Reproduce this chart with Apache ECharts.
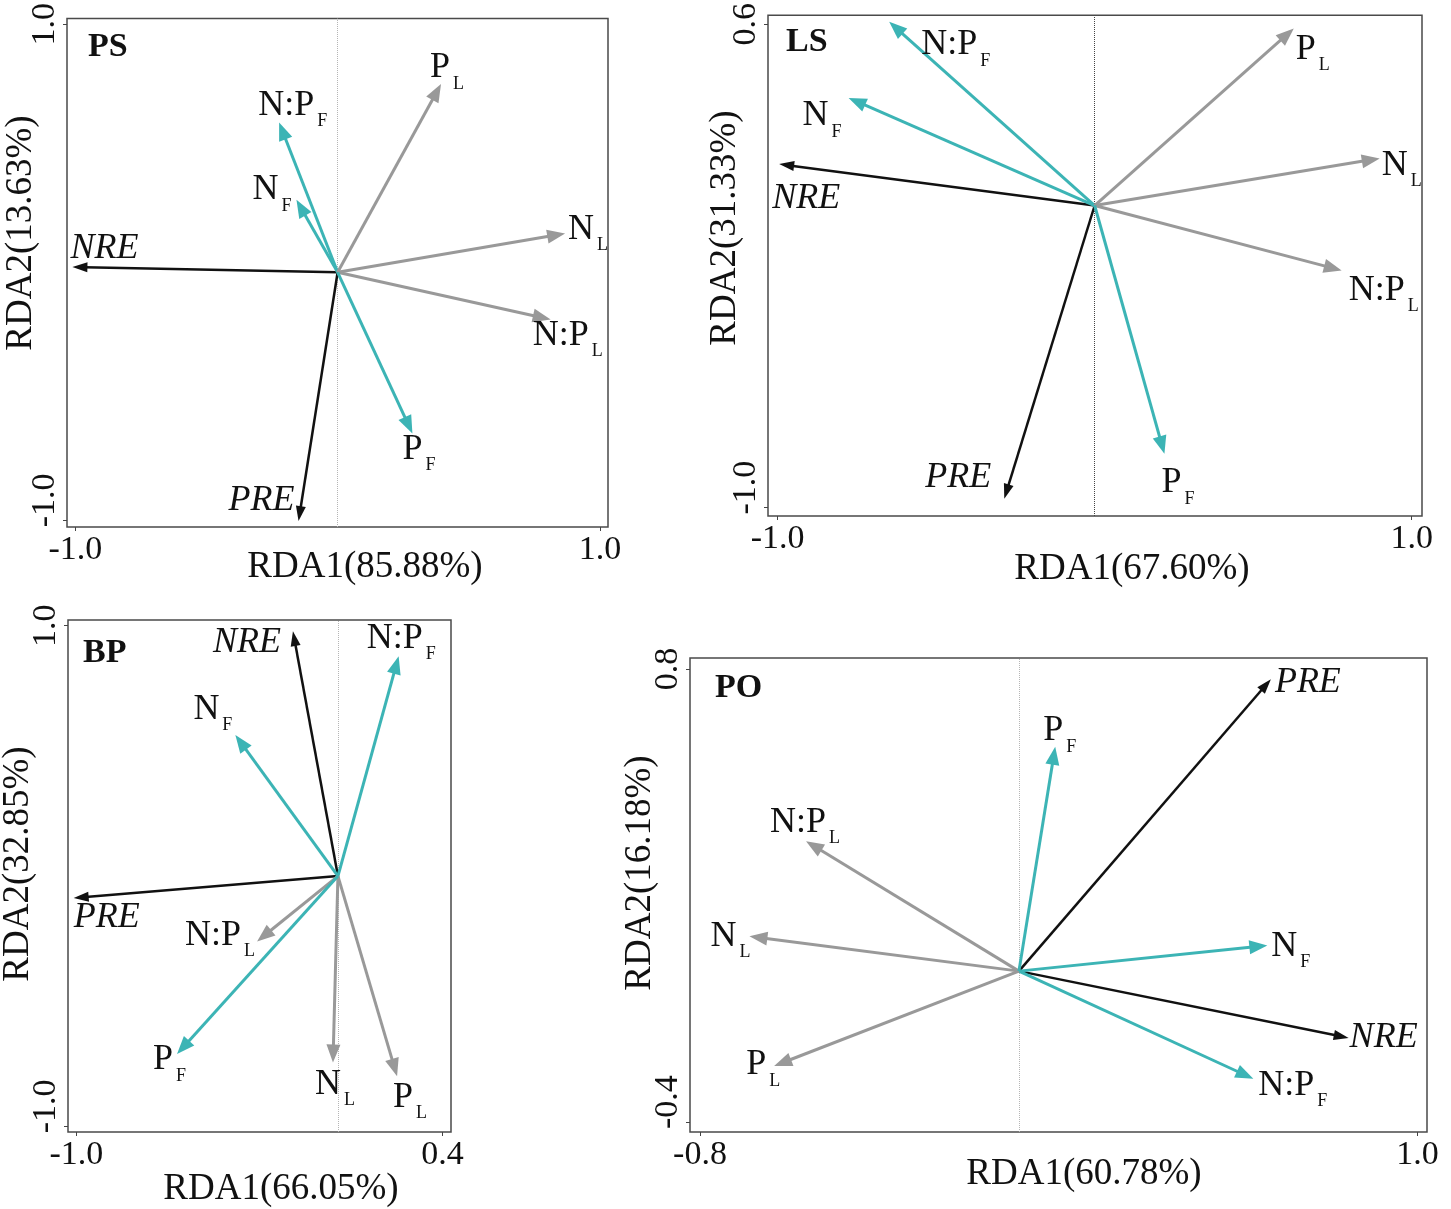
<!DOCTYPE html>
<html>
<head>
<meta charset="utf-8">
<script src="https://cdn.jsdelivr.net/npm/echarts@6/dist/echarts.min.js"></script>
<style>html,body{margin:0;padding:0;background:#fff}#c{width:1451px;height:1209px}</style>
</head>
<body>
<div id="c"></div>
<script>
// ---------------- DATA ----------------
const PS_names = ['NRE', 'PRE', 'N:P_F', 'N_F', 'P_L', 'N_L', 'N:P_L', 'P_F'];
const PS_rda1  = [-1.011, -0.149, -0.223, -0.157, 0.394, 0.867, 0.812, 0.285];
const PS_rda2  = [0.021, -1.003, 0.604, 0.292, 0.759, 0.156, -0.190, -0.650];
const PS_xTicks = [-1.0, 1.0];
const PS_yTicks = [-1.0, 1.0];
const PS_xTitle = 'RDA1(85.88%)';
const PS_yTitle = 'RDA2(13.63%)';

const LS_names = ['NRE', 'PRE', 'N:P_F', 'N_F', 'P_L', 'N_L', 'N:P_L', 'P_F'];
const LS_rda1  = [-0.995, -0.285, -0.648, -0.776, 0.628, 0.899, 0.779, 0.220];
const LS_rda2  = [0.137, -0.971, 0.608, 0.356, 0.586, 0.156, -0.215, -0.822];
const LS_xTicks = [-1.0, 1.0];
const LS_yTicks = [-1.0, 0.6];
const LS_xTitle = 'RDA1(67.60%)';
const LS_yTitle = 'RDA2(31.33%)';

const BP_names = ['NRE', 'PRE', 'N:P_F', 'N_F', 'P_L', 'N_L', 'N:P_L', 'P_F'];
const BP_rda1  = [-0.172, -1.010, 0.232, -0.392, 0.226, -0.019, -0.309, -0.615];
const BP_rda2  = [0.978, -0.088, 0.878, 0.563, -0.800, -0.745, -0.261, -0.711];
const BP_xTicks = [-1.0, 0.4];
const BP_yTicks = [-1.0, 1.0];
const BP_xTitle = 'RDA1(66.05%)';
const BP_yTitle = 'RDA2(32.85%)';

const PO_names = ['NRE', 'PRE', 'N:P_F', 'N_F', 'P_L', 'N_L', 'N:P_L', 'P_F'];
const PO_rda1  = [0.827, 0.632, 0.588, 0.623, -0.614, -0.676, -0.534, 0.091];
const PO_rda2  = [-0.177, 0.773, -0.285, 0.068, -0.251, 0.092, 0.344, 0.594];
const PO_xTicks = [-0.8, 1.0];
const PO_yTicks = [-0.4, 0.8];
const PO_xTitle = 'RDA1(60.78%)';
const PO_yTitle = 'RDA2(16.18%)';

// ---------------- STYLE / LAYOUT ----------------
const FONT = '"Liberation Serif", "Times New Roman", serif';
const TEAL = '#3cb4b5', GREY = '#999999', BLACK = '#111111';
function colorOf(n) { return n.endsWith('_F') ? TEAL : (n.endsWith('_L') ? GREY : BLACK); }

// label offsets in pixels relative to arrow tip: [left edge dx, caps-centre dy]
const PS_off = {'NRE':[-2,-19],'PRE':[-70,-21],'N:P_F':[-21,-17],'N_F':[-44,-10],'P_L':[-11,-16],'N_L':[3,-4],'N:P_L':[-18,16],'P_F':[-10,16]};
const LS_off = {'NRE':[-7,34],'PRE':[-79,-21],'N:P_F':[32,23],'N_F':[-46,18],'P_L':[2,21],'N_L':[2,7],'N:P_L':[7,20],'P_F':[-3,29]};
const BP_off = {'NRE':[-80,11],'PRE':[0,19],'N:P_F':[-32,-18],'N_F':[-42,-26],'P_L':[-4,21],'N_L':[-18,22],'N:P_L':[-72,-6],'P_F':[-24,6]};
const PO_off = {'NRE':[1,0],'PRE':[4,3],'N:P_F':[5,7],'N_F':[4,1],'P_L':[-28,-1],'N_L':[-39,0],'N:P_L':[-36,-19],'P_F':[-12,-16]};

const panels = [
  {tag:'PS', names:PS_names, xs:PS_rda1, ys:PS_rda2, xTicks:PS_xTicks, yTicks:PS_yTicks, xTitle:PS_xTitle, yTitle:PS_yTitle, off:PS_off,
   grid:{left:67, top:15, width:541, height:512}, xr:[-1.0316, 1.0305], yr:[-1.027, 1.0228], zero:'#b5b5b5',
   tagPos:[88, 47], xtPos:[365, 567], ytPos:[21, 233]},
  {tag:'LS', names:LS_names, xs:LS_rda1, ys:LS_rda2, xTicks:LS_xTicks, yTicks:LS_yTicks, xTitle:LS_xTitle, yTitle:LS_yTitle, off:LS_off,
   grid:{left:768, top:15, width:654, height:501}, xr:[-1.0302, 1.0324], yr:[-1.0278, 0.6298], zero:'#444444',
   tagPos:[786, 42], xtPos:[1132, 569], ytPos:[725, 228]},
  {tag:'BP', names:BP_names, xs:BP_rda1, ys:BP_rda2, xTicks:BP_xTicks, yTicks:BP_yTicks, xTitle:BP_xTitle, yTitle:BP_yTitle, off:BP_off,
   grid:{left:68, top:620, width:383, height:512}, xr:[-1.0317, 0.4321], yr:[-1.0224, 1.0228], zero:'#b5b5b5',
   tagPos:[83, 653], xtPos:[281, 1189], ytPos:[18, 864]},
  {tag:'PO', names:PO_names, xs:PO_rda1, ys:PO_rda2, xTicks:PO_xTicks, yTicks:PO_yTicks, xTitle:PO_xTitle, yTitle:PO_yTitle, off:PO_off,
   grid:{left:690, top:658, width:737, height:474}, xr:[-0.8251, 1.0236], yr:[-0.426, 0.8291], zero:'#b5b5b5',
   tagPos:[715, 688], xtPos:[1084, 1174], ytPos:[640, 873]}
];

const mctx = document.createElement('canvas').getContext('2d');
function measure(s, font) { mctx.font = font; return mctx.measureText(s).width; }
function txt(s, x, y, font) {
  return {type:'text', x:x, y:y, style:{text:s, font:font, fill:'#111',
    align:'left', verticalAlign:'middle', textAlign:'left', textVerticalAlign:'middle'}};
}

function makeRender(p) {
  return function (params, api) {
    const i = params.dataIndex;
    const name = p.names[i];
    const o = api.coord([0, 0]);
    const t = api.coord([api.value(0), api.value(1)]);
    const col = colorOf(name);
    const isBlack = col === BLACK;
    const lw = isBlack ? 2.5 : 3;
    const L = isBlack ? 15 : 18, W = isBlack ? 5 : 7;
    const ddx = t[0] - o[0], ddy = t[1] - o[1];
    const len = Math.hypot(ddx, ddy);
    const ux = ddx / len, uy = ddy / len;
    const bx = t[0] - ux * L, by = t[1] - uy * L;
    const nx = -uy, ny = ux;
    const children = [
      {type:'line', shape:{x1:o[0], y1:o[1], x2:t[0] - ux * (L - 3), y2:t[1] - uy * (L - 3)},
       style:{stroke:col, lineWidth:lw}},
      {type:'polygon', shape:{points:[[t[0], t[1]], [bx + nx * W, by + ny * W], [bx - nx * W, by - ny * W]]},
       style:{fill:col}}
    ];
    const off = p.off[name];
    const parts = name.split('_');
    const italic = parts.length === 1;
    const mainFont = (italic ? 'italic ' : '') + '36px ' + FONT;
    const tx = t[0] + off[0], ty = t[1] + off[1];
    children.push(txt(parts[0], tx, ty, mainFont));
    if (parts.length > 1) {
      const w = measure(parts[0], mainFont);
      children.push(txt(parts[1], tx + w + 3, ty + 16, '18px ' + FONT));
    }
    return {type:'group', children:children};
  };
}

const grids = [], xAxes = [], yAxes = [], series = [], graphics = [];
panels.forEach(function (p, k) {
  grids.push(Object.assign({show:true, borderColor:'#4a4a4a', borderWidth:1.5, backgroundColor:'transparent'}, p.grid));
  xAxes.push({
    gridIndex:k, type:'value', min:p.xr[0], max:p.xr[1], position:'bottom',
    axisLine:{show:false, onZero:false}, splitLine:{show:false},
    axisTick:{show:true, customValues:p.xTicks, length:4, lineStyle:{color:'#444', width:1}},
    axisLabel:{show:true, customValues:p.xTicks, margin:6, color:'#111', fontFamily:FONT, fontSize:34,
      formatter:function (v) { return v.toFixed(1); }}
  });
  yAxes.push({
    gridIndex:k, type:'value', min:p.yr[0], max:p.yr[1], position:'left',
    axisLine:{show:false, onZero:false}, splitLine:{show:false},
    axisTick:{show:true, customValues:p.yTicks, length:4, lineStyle:{color:'#444', width:1}},
    axisLabel:{show:true, customValues:p.yTicks, margin:5, rotate:90, color:'#111', fontFamily:FONT, fontSize:34,
      formatter:function (v) { return v < 0 ? '{n|' + v.toFixed(1) + '}' : v.toFixed(1); },
      rich:{n:{fontFamily:FONT, fontSize:34, color:'#111', padding:[0, 0, 0, 40]}}}
  });
  series.push({
    type:'scatter', xAxisIndex:k, yAxisIndex:k, data:[], silent:true, z:1,
    markLine:{silent:true, symbol:'none', animation:false, label:{show:false},
      lineStyle:{type:'dotted', color:p.zero, width:1}, data:[{xAxis:0}]}
  });
  series.push({
    type:'custom', xAxisIndex:k, yAxisIndex:k, z:5, clip:false, animation:false,
    data:p.names.map(function (n, i) { return [p.xs[i], p.ys[i]]; }),
    encode:{x:0, y:1},
    renderItem:makeRender(p)
  });
  graphics.push({type:'text', x:p.tagPos[0], y:p.tagPos[1],
    style:{text:p.tag, font:'bold 34px ' + FONT, fill:'#111', align:'left', verticalAlign:'middle', textAlign:'left', textVerticalAlign:'middle'}});
  graphics.push({type:'text', x:p.xtPos[0], y:p.xtPos[1],
    style:{text:p.xTitle, font:'37px ' + FONT, fill:'#111', align:'center', verticalAlign:'middle', textAlign:'center', textVerticalAlign:'middle'}});
  graphics.push({type:'text', x:p.ytPos[0], y:p.ytPos[1], rotation:Math.PI / 2,
    style:{text:p.yTitle, font:'37px ' + FONT, fill:'#111', align:'center', verticalAlign:'middle', textAlign:'center', textVerticalAlign:'middle'}});
});

const chart = echarts.init(document.getElementById('c'), null, {renderer:'canvas'});
chart.setOption({
  animation:false,
  backgroundColor:'#ffffff',
  grid:grids, xAxis:xAxes, yAxis:yAxes, series:series, graphic:graphics
});
</script>
</body>
</html>
